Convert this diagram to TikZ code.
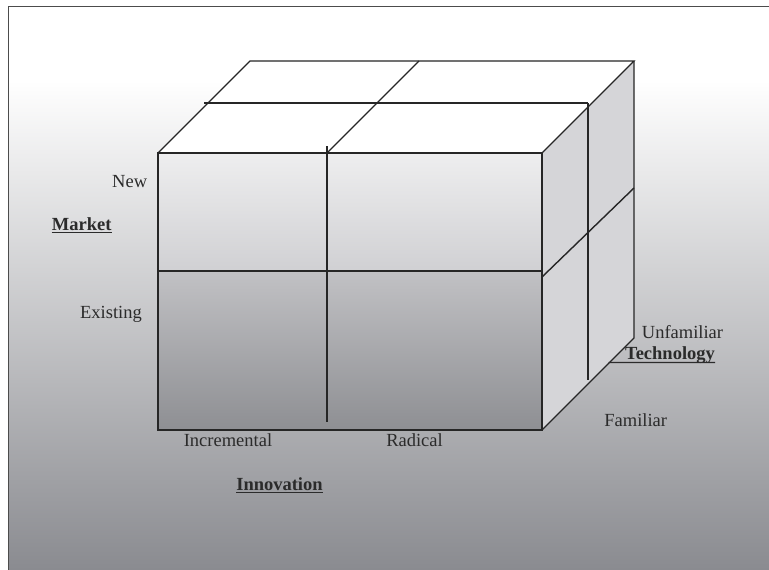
\documentclass[tikz,border=0pt]{standalone}
\usepackage{fontspec}
\setmainfont{Liberation Serif}
\definecolor{bgbot}{HTML}{8A8B90}
\definecolor{sidegray}{HTML}{D5D5D8}
\definecolor{edge}{HTML}{262626}
\definecolor{txt}{HTML}{2B2B2B}
\definecolor{upTop}{HTML}{EEEEEF}
\definecolor{upBot}{HTML}{D0D0D3}
\definecolor{loTop}{HTML}{C1C1C4}
\definecolor{loBot}{HTML}{8E8F93}
\begin{document}
\begin{tikzpicture}[x=1pt,y=-1pt,
  cubeline/.style={draw=edge,line width=1.4pt,line join=miter},
  framebox/.style={draw=black!70,line width=1pt},
  lbl/.style={inner sep=0pt,anchor=base,text=txt,font=\fontsize{18.5}{22}\selectfont},
  blbl/.style={lbl,font=\fontsize{18.5}{22}\selectfont\bfseries},
  uline/.style={draw=txt,line width=1.3pt}]
\useasboundingbox (0,0) rectangle (769,570);
% background
\fill[white] (0,0) rectangle (769,570);
\fill[white] (8,6) rectangle (769,80);
\shade[top color=white,bottom color=bgbot] (8,80) rectangle (769,570);
\draw[framebox] (769,6) -- (8,6) -- (8,570);
% cube corners
\coordinate (FTL) at (158,153);
\coordinate (FTR) at (542,153);
\coordinate (FBL) at (158,430);
\coordinate (FBR) at (542,430);
\coordinate (BTL) at (250,61);
\coordinate (BTR) at (634,61);
\coordinate (BBR) at (634,338);
\coordinate (FML) at (158,271);
\coordinate (FMR) at (542,271);
% faces
\fill[white] (FTL) -- (BTL) -- (BTR) -- (FTR) -- cycle;
\fill[sidegray] (FTR) -- (BTR) -- (BBR) -- (FBR) -- cycle;
\shade[top color=upTop,bottom color=upBot] (FTL) rectangle (FMR);
\shade[top color=loTop,bottom color=loBot] (FML) rectangle (FBR);
% edges
\draw[cubeline] (FTL) rectangle (FBR);
\draw[cubeline] (FTL) -- (BTL) -- (BTR) -- (FTR);
\draw[cubeline] (BTR) -- (BBR) -- (FBR);
\draw[cubeline] (FML) -- (FMR);
\coordinate (VT) at (327,146);
\coordinate (VB) at (327,422);
\draw[cubeline] (VT) -- (VB);
\coordinate (TM1) at (327,153);
\coordinate (TM2) at (419,61);
\draw[cubeline] (TM1) -- (TM2);
\coordinate (DL) at (204,103);
\coordinate (DR) at (588,103);
\draw[cubeline] (DL) -- (DR);
\coordinate (SV) at (588,380);
\draw[cubeline] (DR) -- (SV);
\coordinate (SD1) at (542,277);
\coordinate (SD2) at (634,188);
\draw[cubeline] (SD1) -- (SD2);
% labels
\node[lbl] (new) at (129.7,187) {New};
\node[blbl] (market) at (81.7,230) {Market};
\node[lbl] (exist) at (111,318) {Existing};
\node[lbl] (incr) at (228,446.7) {Incremental};
\node[lbl] (rad) at (414.5,446.7) {Radical};
\node[blbl] (innov) at (279.5,490) {Innovation};
\node[lbl] (unfam) at (682.5,338.3) {Unfamiliar};
\node[blbl] (tech) at (670,359.3) {Technology};
\node[lbl] (fam) at (635.7,426) {Familiar};
% underlines
\draw[uline] ([yshift=-2.8pt]market.base west) -- ([yshift=-2.8pt]market.base east);
\draw[uline] ([yshift=-2.8pt]innov.base west) -- ([yshift=-2.8pt]innov.base east);
\coordinate (techstart) at (608.5,362.4);
\draw[uline] (techstart) -- ([yshift=-3.1pt]tech.base east);
\end{tikzpicture}
\end{document}
